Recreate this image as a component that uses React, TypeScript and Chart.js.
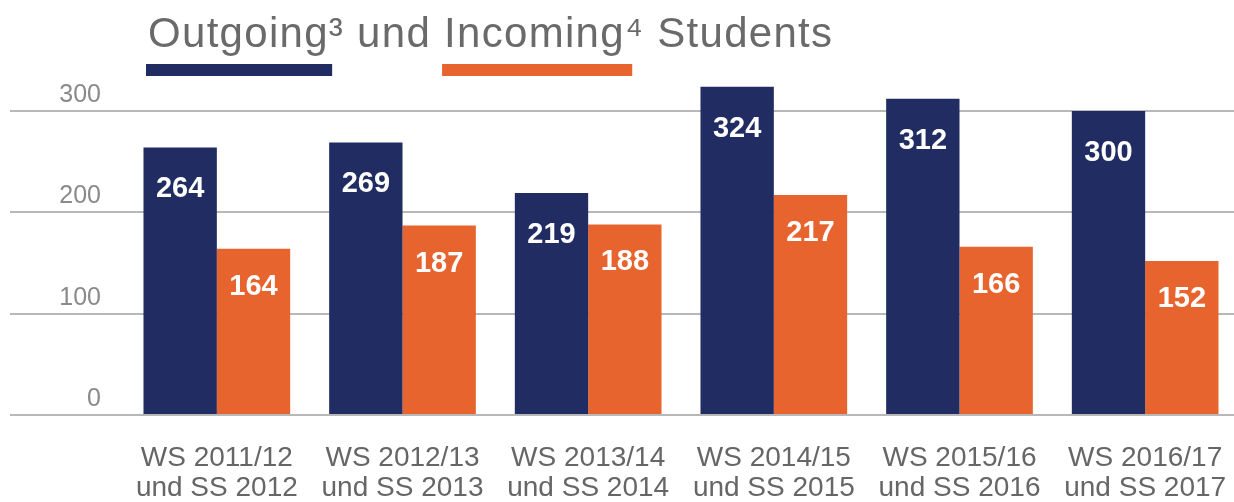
import React, { useEffect, useRef } from 'react';
import { Chart, registerables } from 'chart.js';

Chart.register(...registerables);

const categories: string[][] = [
  ['WS 2011/12', 'und SS 2012'],
  ['WS 2012/13', 'und SS 2013'],
  ['WS 2013/14', 'und SS 2014'],
  ['WS 2014/15', 'und SS 2015'],
  ['WS 2015/16', 'und SS 2016'],
  ['WS 2016/17', 'und SS 2017'],
];
const outgoing = [264, 269, 219, 324, 312, 300];
const incoming = [164, 187, 188, 217, 166, 152];
const yTickValues = [0, 100, 200, 300];
const seriesNames = ['Outgoing³', 'Incoming⁴'];
const titleParts: { text: string; series?: number }[] = [
  { text: seriesNames[0], series: 0 },
  { text: ' und ' },
  { text: seriesNames[1], series: 1 },
  { text: ' Students' },
];

const FONT = "'Liberation Sans', Arial, Helvetica, sans-serif";
const NAVY = '#202c62';
const ORANGE = '#e8642f';

const titlePlugin = {
  id: 'titleLegend',
  afterDraw(chart: any) {
    const ctx = chart.ctx;
    ctx.save();
    ctx.font = `42px ${FONT}`;
    try {
      (ctx as any).letterSpacing = '1.3px';
    } catch (e) {}
    ctx.textBaseline = 'alphabetic';
    ctx.textAlign = 'left';
    let x = 148;
    const y = 47;
    for (const part of titleParts) {
      const w = ctx.measureText(part.text).width;
      ctx.fillStyle = '#6a6a6a';
      ctx.fillText(part.text, x, y);
      if (part.series !== undefined) {
        ctx.fillStyle = chart.data.datasets[part.series].backgroundColor;
        ctx.fillRect(x - 2, 64, w - 10, 12);
      }
      x += w;
    }
    ctx.restore();
  },
};

const valueLabelPlugin = {
  id: 'valueLabels',
  afterDatasetsDraw(chart: any) {
    const ctx = chart.ctx;
    ctx.save();
    ctx.font = `bold 29px ${FONT}`;
    ctx.fillStyle = '#ffffff';
    ctx.textAlign = 'center';
    ctx.textBaseline = 'middle';
    chart.data.datasets.forEach((ds: any, di: number) => {
      const meta = chart.getDatasetMeta(di);
      const off = di === 0 ? 42 : 38;
      meta.data.forEach((el: any, i: number) => {
        ctx.fillText(String(ds.data[i]), el.x, el.y + off);
      });
    });
    ctx.restore();
  },
};

export default function App() {
  const ref = useRef<HTMLCanvasElement | null>(null);
  useEffect(() => {
    if (!ref.current) return;
    const chart = new Chart(ref.current, {
      type: 'bar',
      data: {
        labels: categories,
        datasets: [
          {
            label: seriesNames[0],
            data: outgoing,
            backgroundColor: NAVY,
            categoryPercentage: 0.79,
            barPercentage: 1.0,
          },
          {
            label: seriesNames[1],
            data: incoming,
            backgroundColor: ORANGE,
            categoryPercentage: 0.79,
            barPercentage: 1.0,
          },
        ],
      },
      options: {
        animation: false,
        responsive: false,
        devicePixelRatio: 1,
        layout: { padding: { left: 10, top: 80.6, right: 0, bottom: 0 } },
        plugins: {
          legend: { display: false },
          tooltip: { enabled: false },
          title: { display: false },
        },
        scales: {
          x: {
            grid: { display: false },
            border: { display: false },
            ticks: {
              color: '#666666',
              font: { family: FONT, size: 28, lineHeight: 1.07 },
              padding: 20,
              maxRotation: 0,
              autoSkip: false,
            },
            afterFit: (scale: any) => {
              scale.height = 87;
              scale.paddingLeft = 0;
              scale.paddingRight = 0;
            },
          },
          y: {
            min: 0,
            max: 330,
            border: { display: false },
            grid: {
              color: '#b8b8b8',
              lineWidth: 2,
              drawTicks: true,
              tickLength: 114,
            },
            ticks: {
              stepSize: 100,
              padding: -91,
              labelOffset: -16,
              color: '#8a8a8a',
              font: { family: FONT, size: 25 },
            },
            afterBuildTicks: (scale: any) => {
              scale.ticks = yTickValues.map((v) => ({ value: v }));
            },
            afterFit: (scale: any) => {
              scale.width = 114;
            },
          },
        },
      },
      plugins: [titlePlugin, valueLabelPlugin],
    });
    return () => chart.destroy();
  }, []);

  return (
    <div
      style={{
        position: 'fixed',
        left: 0,
        top: 0,
        width: 1234,
        height: 502,
        overflow: 'hidden',
        background: '#ffffff',
      }}
    >
      <canvas ref={ref} width={1238} height={502} style={{ display: 'block', width: 1238, height: 502 }} />
    </div>
  );
}
